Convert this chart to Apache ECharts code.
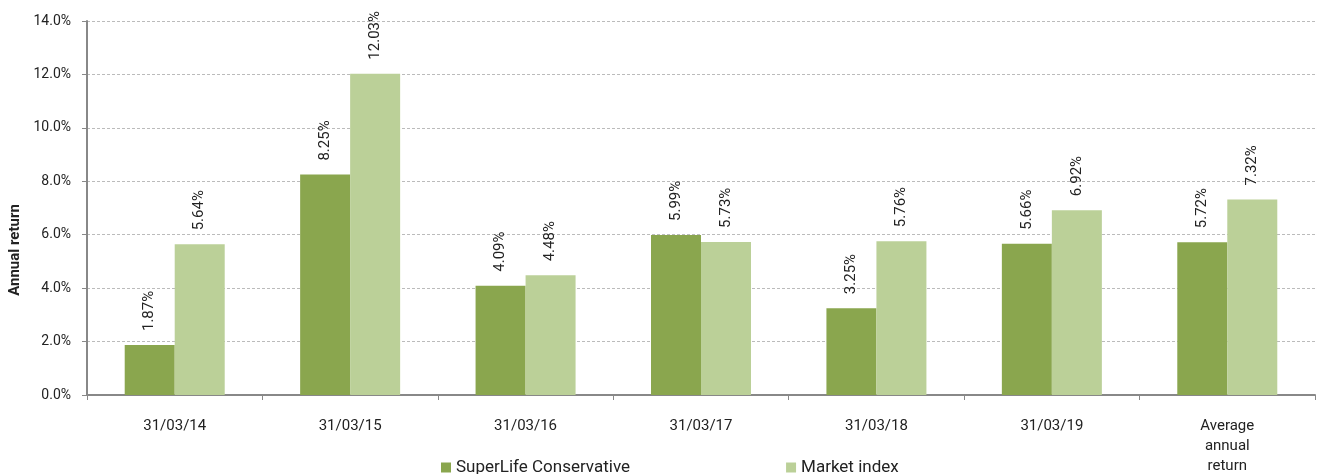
<!DOCTYPE html>
<html>
<head>
<meta charset="utf-8">
<script src="https://cdn.jsdelivr.net/npm/echarts@6/dist/echarts.min.js"></script>
<style>
  html, body { margin: 0; padding: 0; background: #fff; }
  #chart-container { width: 1317px; height: 474px; }
</style>
</head>
<body>
<div id="chart-container"></div>
<script>
// data
const categories = ["31/03/14", "31/03/15", "31/03/16", "31/03/17", "31/03/18", "31/03/19", "Average\nannual\nreturn"];
const superlife = [1.87, 8.25, 4.09, 5.99, 3.25, 5.66, 5.72];
const marketIndex = [5.64, 12.03, 4.48, 5.73, 5.76, 6.92, 7.32];
const yTicks = { min: 0, max: 14, interval: 2 };

const dom = document.getElementById("chart-container");
const chart = echarts.init(dom, null, { renderer: "canvas" });

const font = "Roboto, 'Noto Sans', sans-serif";

// shared label style for rotated values
const valueLabel = {
  show: true,
  position: "top",
  rotate: 90,
  align: "left",
  verticalAlign: "middle",
  distance: 14,
  fontFamily: font,
  fontSize: 15,
  color: "#222",
  formatter: (p) => p.value.toFixed(2) + "%",
};

const option = {
  animation: false,
  textStyle: { fontFamily: font },
  grid: { left: 87, right: 2, top: 21, bottom: 79, containLabel: false, outerBoundsMode: "none" },
  legend: {
    bottom: -7,
    left: 436,
    itemWidth: 10,
    itemHeight: 10,
    itemGap: 156,
    icon: "rect",
    textStyle: { fontFamily: font, fontSize: 17, color: "#222" },
    data: ["SuperLife Conservative", "Market index"],
  },
  xAxis: {
    type: "category",
    data: categories,
    axisLine: { lineStyle: { color: "#888", width: 2 } },
    axisTick: { show: true, length: 5, lineStyle: { color: "#888" } },
    axisLabel: { fontFamily: font, fontSize: 15, color: "#222", margin: 21, lineHeight: 20 },
  },
  yAxis: {
    type: "value",
    min: yTicks.min,
    max: yTicks.max,
    interval: yTicks.interval,
    name: "Annual return",
    nameLocation: "middle",
    nameGap: 64,
    nameTextStyle: {
      fontFamily: font,
      fontSize: 15,
      fontWeight: "bold",
      color: "#222",
      padding: [0, 84, 0, 0],
    },
    axisLine: { show: true, lineStyle: { color: "#888", width: 2 } },
    axisTick: { show: true, length: 5, lineStyle: { color: "#888" } },
    axisLabel: {
      fontFamily: font,
      fontSize: 14,
      color: "#222",
      margin: 16,
      formatter: (v) => v.toFixed(1) + "%",
    },
    splitLine: { lineStyle: { color: "#bbb", type: [3, 2] } },
  },
  series: [
    {
      name: "SuperLife Conservative",
      type: "bar",
      data: superlife,
      barWidth: 50,
      barGap: "0%",
      itemStyle: { color: "#8aa64e" },
      label: valueLabel,
    },
    {
      name: "Market index",
      type: "bar",
      data: marketIndex,
      barWidth: 50,
      barGap: "0%",
      itemStyle: { color: "#bbd098" },
      label: valueLabel,
    },
  ],
};

chart.setOption(option);
window.addEventListener("resize", () => chart.resize());
</script>
</body>
</html>
